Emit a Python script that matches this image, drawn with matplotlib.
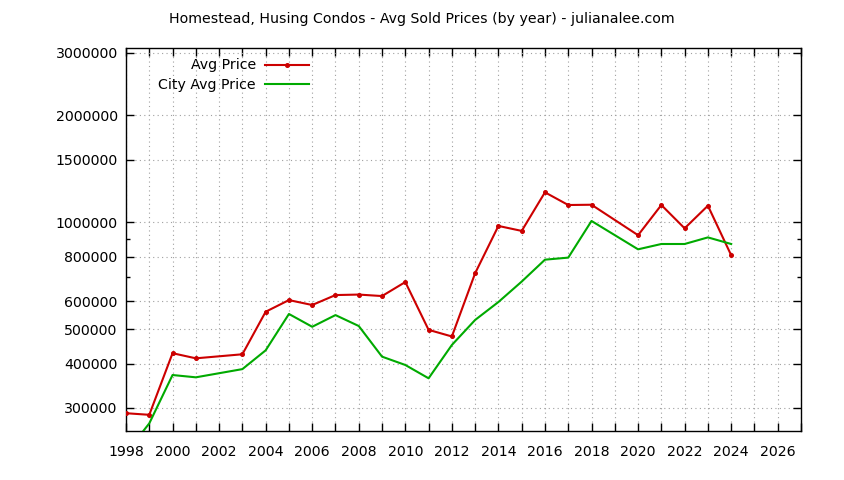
import matplotlib
matplotlib.use("Agg")
import matplotlib.pyplot as plt
from matplotlib.ticker import FixedLocator, FixedFormatter, NullFormatter

years_avg = [1998, 1999, 2000, 2001, 2003, 2004, 2005, 2006, 2007, 2008, 2009,
             2010, 2011, 2012, 2013, 2014, 2015, 2016, 2017, 2018, 2020, 2021,
             2022, 2023, 2024]
avg_price = [290000, 287000, 428000, 414000, 425000, 560000, 604000, 585000,
             624000, 626000, 620000, 679000, 498000, 477000, 719000, 977000,
             946000, 1215000, 1119000, 1121000, 920000, 1119000, 962000,
             1114000, 808000]

years_city = [1998, 1999, 2000, 2001, 2003, 2004, 2005, 2006, 2007, 2008, 2009,
              2010, 2011, 2012, 2013, 2014, 2015, 2016, 2017, 2018, 2020, 2021,
              2022, 2023, 2024]
city_price = [224000, 271500, 371500, 366000, 386000, 436000, 552000, 508000,
              548000, 510500, 418500, 396500, 363700, 451400, 531000, 596500,
              681000, 785000, 795500, 1009000, 839500, 869000, 869000, 907000,
              869000]

y_ticks = [300000, 400000, 500000, 600000, 800000, 1000000, 1500000, 2000000, 3000000]
y_minor = [700000, 900000]
x_labels = [str(y) for y in range(1998, 2027, 2)]

title = "Homestead, Husing Condos - Avg Sold Prices (by year) - julianalee.com"

plt.rcParams['font.family'] = ['DejaVu Sans']
fs = 10.2
fig = plt.figure(figsize=(8.44, 4.8), dpi=100)
ax = fig.add_axes([126/844, 1-431/480, (801-126)/844, (431-48)/480])

red = '#cc0000'
green = '#00aa00'
ax.plot(years_avg, avg_price, color=red, lw=1.5, marker='o', ms=2.6,
        label='Avg Price', zorder=3)
ax.plot(years_city, city_price, color=green, lw=1.5, label='City Avg Price', zorder=3)

ax.set_yscale('log')
ax.set_xlim(1998, 2027)
ax.set_ylim(258400, 3098000)

ax.yaxis.set_major_locator(FixedLocator(y_ticks))
ax.yaxis.set_major_formatter(FixedFormatter([str(v) for v in y_ticks]))
ax.yaxis.set_minor_locator(FixedLocator(y_minor))
ax.yaxis.set_minor_formatter(NullFormatter())

xt = list(range(1998, 2028))
ax.xaxis.set_major_locator(FixedLocator(xt))
ax.xaxis.set_major_formatter(FixedFormatter([str(y) if str(y) in x_labels else '' for y in xt]))

ax.tick_params(axis='both', which='major', direction='in', length=6, width=1,
               top=True, right=True, labelsize=fs, colors='black')
ax.tick_params(axis='y', which='minor', direction='in', length=3, width=1, right=True, left=True)
ax.tick_params(axis='x', pad=10)
ax.tick_params(axis='y', pad=6)

ax.grid(True, which='major', color='#a0a0a0', linestyle=(0, (1, 3)), lw=0.8)
for s in ax.spines.values():
    s.set_linewidth(1.0)

fig.text(0.5, 1-19/480, title, ha='center', va='center', fontsize=fs)

leg = ax.legend(loc='upper right', bbox_to_anchor=(309/844, 1-58.5/480),
                bbox_transform=fig.transFigure, frameon=False, borderpad=0,
                borderaxespad=0, markerfirst=False, handlelength=3.1,
                handletextpad=0.65, labelspacing=0.42, fontsize=fs)
for vp in leg._legend_handle_box.get_children():
    vp.align = 'right'

fig.savefig('out.png', dpi=100)
